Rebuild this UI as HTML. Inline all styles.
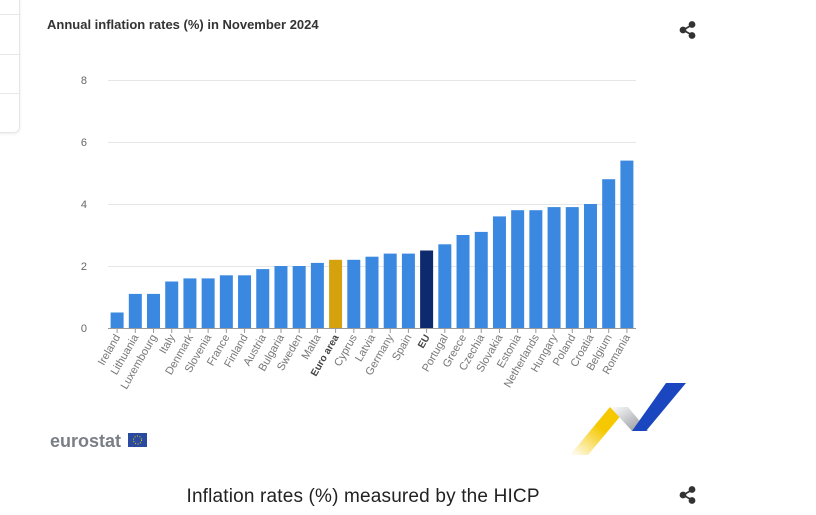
<!DOCTYPE html>
<html><head><style>
body{margin:0;width:816px;height:515px;background:#fff;font-family:"Liberation Sans",sans-serif;position:relative;overflow:hidden}
.card{position:absolute;left:-10px;top:-10px;width:28px;height:141px;border:1px solid #e4e6ea;border-radius:6px;box-shadow:0 1px 3px rgba(0,0,0,.08)}
.card i{position:absolute;left:0;width:28px;border-top:1px solid #e8e8ec}
</style></head><body>
<div class="card"><i style="top:23px"></i><i style="top:63px"></i><i style="top:102px"></i></div>
<svg width="816" height="515" style="position:absolute;left:0;top:0" font-family="Liberation Sans, sans-serif">
<text x="47" y="29" font-size="13" font-weight="bold" fill="#333">Annual inflation rates (%) in November 2024</text>
<g stroke="#e6e6e6" stroke-width="1">
<line x1="108" x2="636" y1="80.5" y2="80.5"/><line x1="108" x2="636" y1="142.5" y2="142.5"/><line x1="108" x2="636" y1="204.5" y2="204.5"/><line x1="108" x2="636" y1="266.5" y2="266.5"/>
</g>
<g font-size="11" fill="#666" text-anchor="end">
<text x="87" y="84">8</text><text x="87" y="146">6</text><text x="87" y="208">4</text><text x="87" y="270">2</text><text x="87" y="332">0</text>
</g>
<g id="bars"></g>
<line x1="108" x2="636" y1="328.5" y2="328.5" stroke="#999"/>
<g id="labels" font-size="11" fill="#777"></g>
<text x="50" y="447" font-size="18" font-weight="bold" fill="#7a7f87">eurostat</text>
<rect x="128" y="433" width="19" height="14" fill="#2a4aa0"/>
<circle cx="137.5" cy="440" r="4" fill="none" stroke="#f5d000" stroke-width="1" stroke-dasharray="1 1.6"/>
<defs><linearGradient id="yg" x1="0" y1="1" x2="1" y2="0"><stop offset="0" stop-color="#fff"/><stop offset="0.55" stop-color="#f5c800"/></linearGradient>
<linearGradient id="gg" x1="0" y1="0" x2="1" y2="1"><stop offset="0" stop-color="#fff"/><stop offset="1" stop-color="#8a8e95"/></linearGradient></defs>
<polygon points="570,455 610,407 628,407 588,455" fill="url(#yg)"/>
<polygon points="610,407 628,407 648,431 632,431" fill="url(#gg)"/>
<polygon points="632,431 666,383 686,383 646,431" fill="#1a47c0"/>
<text x="363" y="502" font-size="19" fill="#222" text-anchor="middle" textLength="353">Inflation rates (%) measured by the HICP</text>
<g fill="#333" stroke="#333" stroke-width="1.6">
<line x1="683" y1="30" x2="692" y2="25"/><line x1="683" y1="30" x2="692" y2="35"/>
<circle cx="683" cy="30" r="2.6"/><circle cx="692" cy="24.5" r="2.6"/><circle cx="692" cy="35.5" r="2.6"/>
<line x1="683" y1="495" x2="692" y2="490"/><line x1="683" y1="495" x2="692" y2="500"/>
<circle cx="683" cy="495" r="2.6"/><circle cx="692" cy="489.5" r="2.6"/><circle cx="692" cy="500.5" r="2.6"/>
</g>
</svg>
<script>
var d=[["Ireland",0.5],["Lithuania",1.1],["Luxembourg",1.1],["Italy",1.5],["Denmark",1.6],["Slovenia",1.6],["France",1.7],["Finland",1.7],["Austria",1.9],["Bulgaria",2.0],["Sweden",2.0],["Malta",2.1],["Euro area",2.2],["Cyprus",2.2],["Latvia",2.3],["Germany",2.4],["Spain",2.4],["EU",2.5],["Portugal",2.7],["Greece",3.0],["Czechia",3.1],["Slovakia",3.6],["Estonia",3.8],["Netherlands",3.8],["Hungary",3.9],["Poland",3.9],["Croatia",4.0],["Belgium",4.8],["Romania",5.4]];
var ns="http://www.w3.org/2000/svg",b=document.getElementById("bars"),l=document.getElementById("labels"),p=528/29;
d.forEach(function(e,i){var cx=108+p*(i+0.5),h=e[1]*31;
var r=document.createElementNS(ns,"rect");r.setAttribute("x",cx-6.5);r.setAttribute("y",328-h);r.setAttribute("width",13);r.setAttribute("height",h);
r.setAttribute("fill",e[0]=="Euro area"?"#d4a20c":e[0]=="EU"?"#0e2a6e":"#3a88e0");b.appendChild(r);
var t=document.createElementNS(ns,"line");t.setAttribute("x1",cx);t.setAttribute("x2",cx);t.setAttribute("y1",329);t.setAttribute("y2",333);t.setAttribute("stroke","#999");b.appendChild(t);
var x=document.createElementNS(ns,"text");x.setAttribute("text-anchor","end");x.setAttribute("transform","translate("+(cx+3.5)+",337) rotate(-60)");
if(e[0]=="Euro area"||e[0]=="EU"){x.setAttribute("font-weight","bold");x.setAttribute("fill","#444");x.setAttribute("font-size","10")}
x.textContent=e[0];l.appendChild(x);});
</script>
</body></html>
